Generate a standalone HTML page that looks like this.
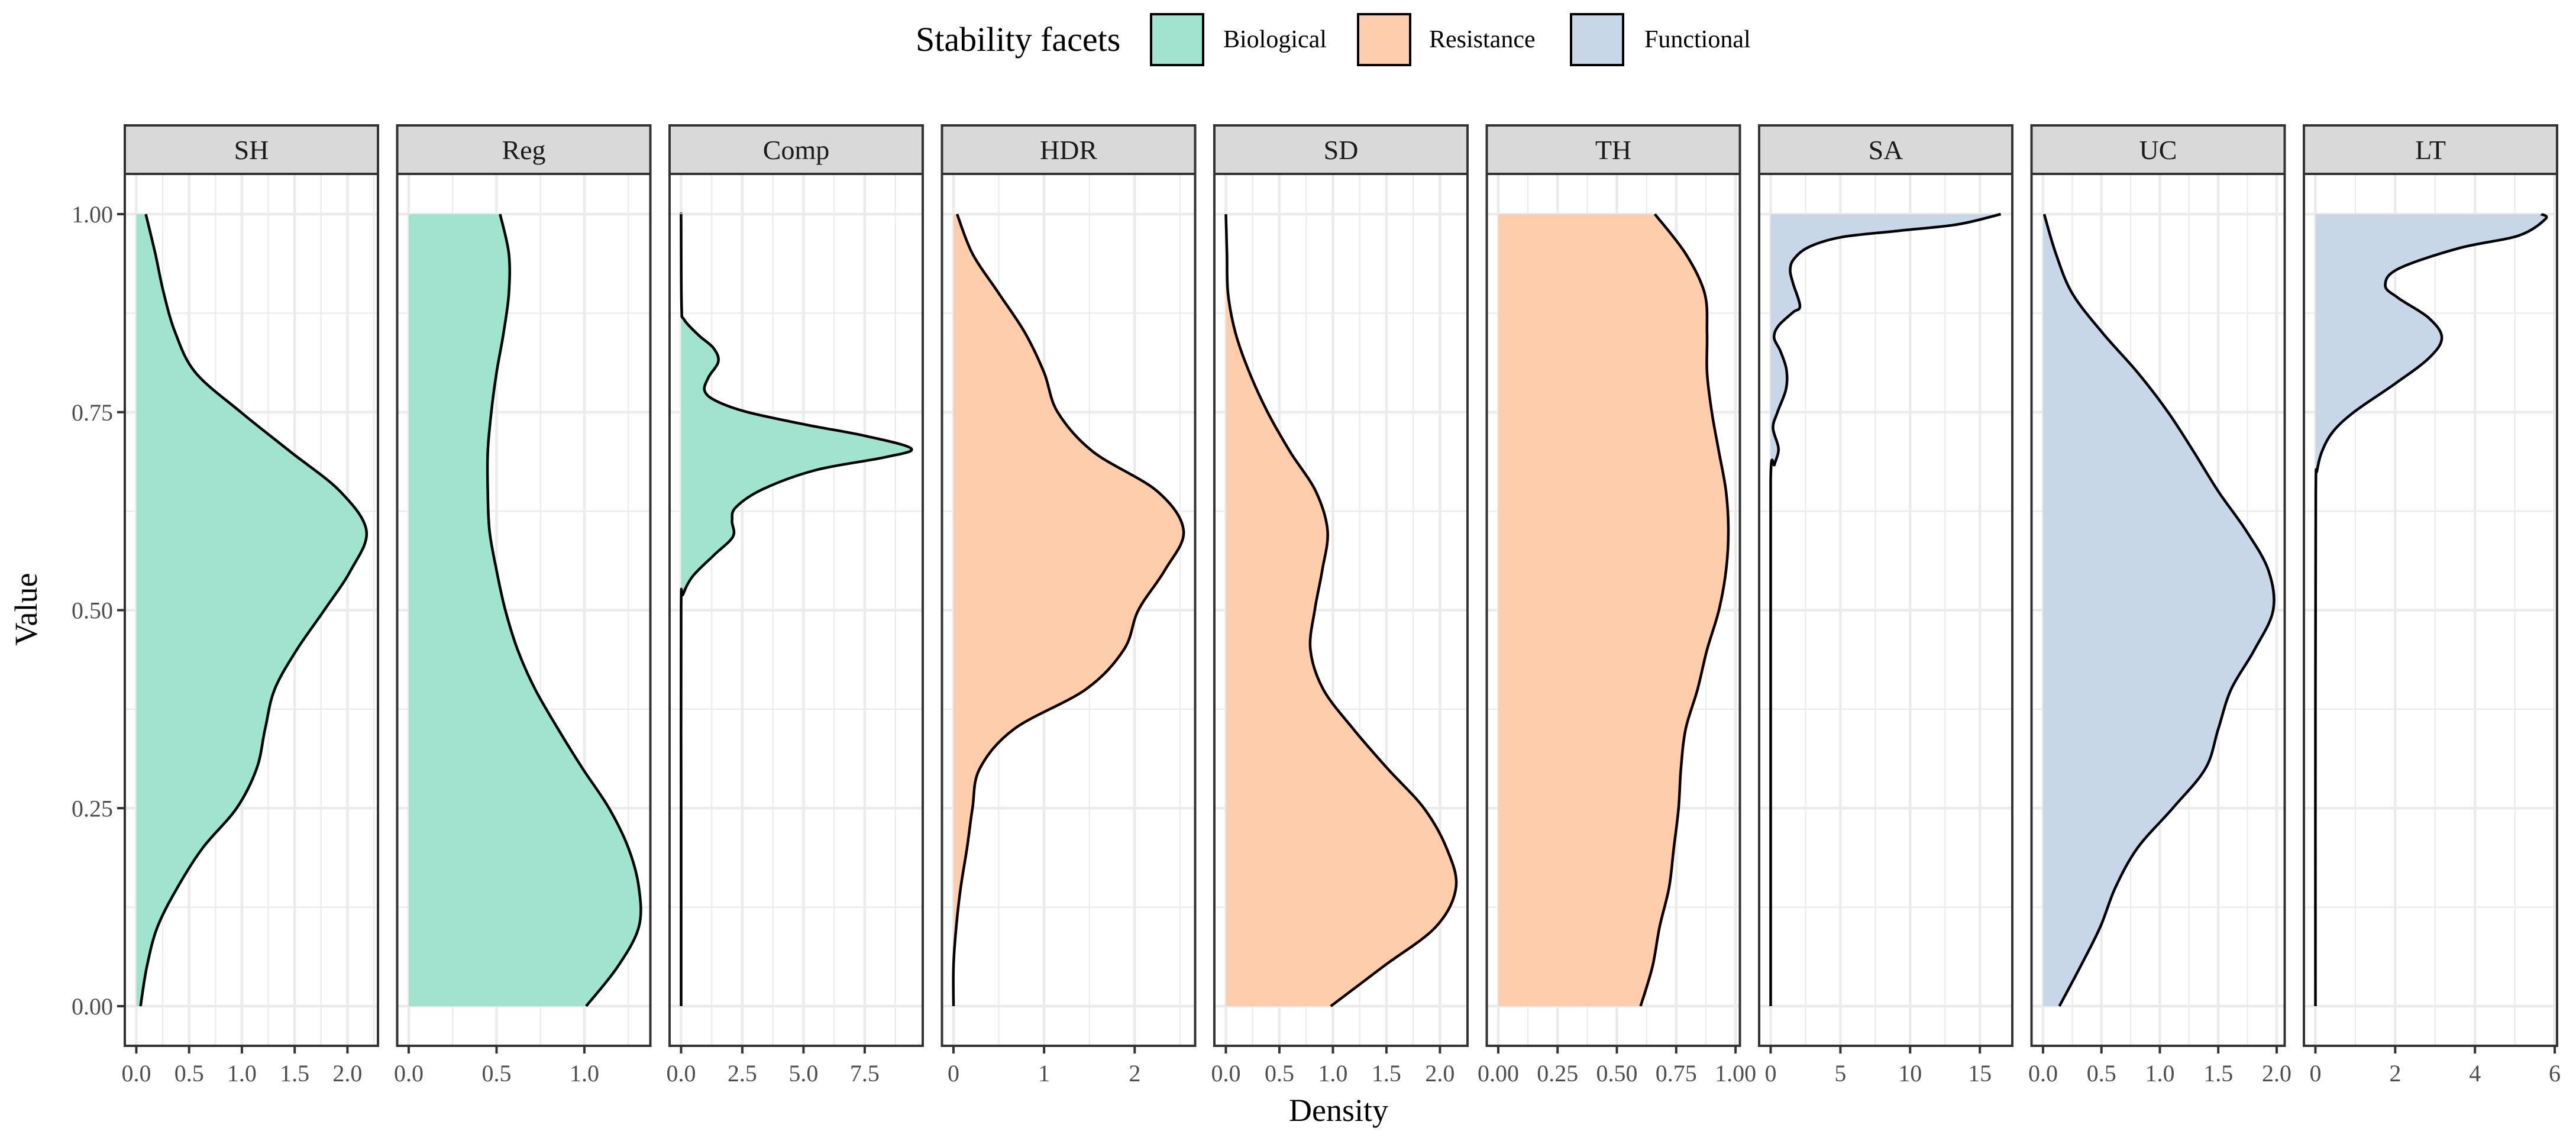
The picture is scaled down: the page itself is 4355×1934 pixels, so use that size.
<!DOCTYPE html>
<html><head><meta charset="utf-8">
<style>
html,body{margin:0;padding:0;background:#fff;}
svg{display:block;}
text{font-family:"Liberation Serif","DejaVu Serif",serif;}
</style></head>
<body>
<svg id="chart" width="4355" height="1934" viewBox="0 0 4355 1934" xmlns="http://www.w3.org/2000/svg">
  <g>
    <text x="1548" y="86" font-size="58" fill="#000">Stability facets</text>
    <rect x="1946" y="24" width="88" height="86" fill="#a0e4cf" stroke="#000" stroke-width="4"/>
    <text x="2068" y="80" font-size="42" fill="#000">Biological</text>
    <rect x="2296" y="24" width="88" height="86" fill="#fdcdac" stroke="#000" stroke-width="4"/>
    <text x="2416" y="80" font-size="42" fill="#000">Resistance</text>
    <rect x="2656" y="24" width="88" height="86" fill="#c8d7e8" stroke="#000" stroke-width="4"/>
    <text x="2780" y="80" font-size="42" fill="#000">Functional</text>
  </g>
  <text x="0" y="0" transform="translate(62,1030) rotate(-90)" text-anchor="middle" font-size="54" fill="#000">Value</text>
  <text x="2263" y="1895" text-anchor="middle" font-size="54" fill="#000">Density</text>
  <g id="panels"></g>
</svg>
<script>
// ---- data (value on y, density on x) ----
const panelNames = ["SH","Reg","Comp","HDR","SD","TH","SA","UC","LT"];
const panelFacets = ["bio","bio","bio","res","res","res","fun","fun","fun"];
const stdY = [1,0.95,0.9,0.85,0.8,0.75,0.7,0.65,0.6,0.55,0.5,0.45,0.4,0.35,0.3,0.25,0.2,0.15,0.1,0.05,0];
const shDens = [0.09,0.18,0.26,0.37,0.56,0.99,1.46,1.93,2.18,2.03,1.78,1.52,1.31,1.22,1.14,0.95,0.63,0.39,0.20,0.10,0.04];
const regDens = [0.52,0.57,0.57,0.54,0.50,0.47,0.45,0.45,0.46,0.50,0.55,0.62,0.72,0.85,0.99,1.14,1.25,1.31,1.31,1.19,1.01];
const compY = [1,0.988,0.884,0.867,0.847,0.831,0.814,0.794,0.777,0.764,0.75,0.734,0.72,0.704,0.693,0.677,0.653,0.63,0.613,0.593,0.57,0.543,0.52,0.503,0.25,0];
const compDens = [0,0,0.02,0.12,0.72,1.32,1.52,1.12,0.96,1.44,2.72,5.12,7.52,9.4,8.32,5.52,3.36,2.24,2.08,2.12,1.36,0.48,0.08,0,0,0];
const hdrDens = [0.04,0.21,0.50,0.79,1.0,1.15,1.54,2.25,2.54,2.33,2.04,1.88,1.46,0.67,0.29,0.21,0.15,0.08,0.03,0.0,0.0];
const sdDens = [0,0.01,0.02,0.09,0.22,0.39,0.60,0.84,0.95,0.90,0.83,0.79,0.91,1.19,1.51,1.85,2.06,2.15,1.96,1.47,0.98];
const thDens = [0.66,0.79,0.87,0.88,0.88,0.90,0.93,0.96,0.97,0.96,0.93,0.88,0.84,0.79,0.77,0.76,0.74,0.72,0.68,0.65,0.60];
const saY = [1,0.987,0.979,0.971,0.959,0.944,0.93,0.913,0.884,0.876,0.859,0.844,0.827,0.804,0.779,0.75,0.73,0.704,0.684,0.664,0.4,0];
const saDens = [16.5,13.4,9.2,5.1,2.8,1.7,1.4,1.6,2.1,1.6,0.56,0.25,0.70,1.13,1.10,0.49,0.17,0.56,0.28,0,0,0];
const ucDens = [0.01,0.11,0.25,0.51,0.81,1.07,1.29,1.50,1.74,1.93,1.97,1.81,1.61,1.50,1.39,1.11,0.81,0.62,0.49,0.32,0.14];
const ltY = [1,0.994,0.973,0.957,0.931,0.91,0.894,0.869,0.844,0.818,0.785,0.751,0.726,0.701,0.676,0.651,0.4,0];
const ltDens = [5.66,5.77,5.1,3.6,2.08,1.75,2.08,2.84,3.17,2.84,1.97,0.99,0.45,0.17,0.04,0.01,0,0];
const panelY = [stdY,stdY,compY,stdY,stdY,stdY,saY,stdY,ltY];
const panelDens = [shDens,regDens,compDens,hdrDens,sdDens,thDens,saDens,ucDens,ltDens];
// tick labels
const shTicks = ["0.0","0.5","1.0","1.5","2.0"];
const regTicks = ["0.0","0.5","1.0"];
const compTicks = ["0.0","2.5","5.0","7.5"];
const hdrTicks = ["0","1","2"];
const sdTicks = ["0.0","0.5","1.0","1.5","2.0"];
const thTicks = ["0.00","0.25","0.50","0.75","1.00"];
const saTicks = ["0","5","10","15"];
const ucTicks = ["0.0","0.5","1.0","1.5","2.0"];
const ltTicks = ["0","2","4","6"];
const panelTicks = [shTicks,regTicks,compTicks,hdrTicks,sdTicks,thTicks,saTicks,ucTicks,ltTicks];
const yTicks = ["0.00","0.25","0.50","0.75","1.00"];

// ---- layout ----
const NS = "http://www.w3.org/2000/svg";
const fillCol = {bio:"#a0e4cf", res:"#fdcdac", fun:"#c8d7e8"};
const PX0 = 211, PITCH = 460.5, PW = 428;
const STRIP_TOP = 212, PTOP = 294, PBOT = 1768;
const Y0 = 1701, Y1 = 362;
function yScale(v){ return Y0 - v*(Y0-Y1); }
function mk(tag, attrs, parent){
  const e = document.createElementNS(NS, tag);
  for (const k in attrs) e.setAttribute(k, attrs[k]);
  parent.appendChild(e);
  return e;
}
function spline(pts){
  let d = "M" + pts[0][0].toFixed(1) + "," + pts[0][1].toFixed(1);
  for (let i=0;i<pts.length-1;i++){
    const p0 = pts[Math.max(0,i-1)], p1 = pts[i], p2 = pts[i+1], p3 = pts[Math.min(pts.length-1,i+2)];
    const c1x = p1[0]+(p2[0]-p0[0])/6, c1y = p1[1]+(p2[1]-p0[1])/6;
    const c2x = p2[0]-(p3[0]-p1[0])/6, c2y = p2[1]-(p3[1]-p1[1])/6;
    d += " C" + c1x.toFixed(1)+","+c1y.toFixed(1)+" "+c2x.toFixed(1)+","+c2y.toFixed(1)+" "+p2[0].toFixed(1)+","+p2[1].toFixed(1);
  }
  return d;
}
const root = document.getElementById("panels");
yTicks.forEach(function(lab){
  const v = parseFloat(lab), y = yScale(v);
  const t = mk("line",{x1:PX0-13,x2:PX0,y1:y,y2:y,stroke:"#333","stroke-width":4},root);
  
  
  const tx = mk("text",{x:PX0-20,y:y+14,"text-anchor":"end","font-size":40,fill:"#4d4d4d"},root);
  tx.textContent = lab;
  
  
});

panelNames.forEach(function(name, i){
  const left = PX0 + i*PITCH, right = left + PW;
  const dens = panelDens[i], ys = panelY[i];
  const M = Math.max.apply(null, dens);
  const lo = -0.05*M, hi = 1.05*M;
  const xScale = function(d){ return left + (d-lo)/(hi-lo)*PW; };
  const g = mk("g",{},root);
  
  
  mk("rect",{x:left,y:PTOP,width:PW,height:PBOT-PTOP,fill:"#fff"},g);
  const ticks = panelTicks[i].map(parseFloat);
  const step = ticks[1]-ticks[0];
  for (let v=ticks[0]-step/2; xScale(v)<right; v+=step/2){
    const x = xScale(v);
    if (x<=left) continue;
    const major = Math.abs(((v-ticks[0])/step) - Math.round((v-ticks[0])/step))<1e-6;
    const gl = mk("line",{x1:x,x2:x,y1:PTOP,y2:PBOT,stroke:"#ebebeb","stroke-width":major?4.5:2.2},g);
    
    
  }
  for (let k=-1;k<=8;k++){
    const v = k*0.125, y = yScale(v);
    if (y<PTOP || y>PBOT) continue;
    const major = k%2===0;
    const gl = mk("line",{x1:left,x2:right,y1:y,y2:y,stroke:"#ebebeb","stroke-width":major?4.5:2.2},g);
    
    
  }
  const pts = ys.map(function(v,j){ return [xScale(dens[j]), yScale(v)]; });
  const curve = spline(pts);
  const area = mk("path",{d: curve + " L"+xScale(0)+","+yScale(ys[ys.length-1])+" L"+xScale(0)+","+yScale(ys[0])+" Z", fill: fillCol[panelFacets[i]], stroke:"none"},g);
  
  
  const line = mk("path",{d: curve, fill:"none", stroke:"#000","stroke-width":4.5,"stroke-linejoin":"round"},g);
  
  
  const bd = mk("rect",{x:left,y:PTOP,width:PW,height:PBOT-PTOP,fill:"none",stroke:"#333","stroke-width":4},g);
  
  
  const st = mk("rect",{x:left,y:STRIP_TOP,width:PW,height:PTOP-STRIP_TOP,fill:"#d9d9d9",stroke:"#333","stroke-width":4},g);
  
  
  const sl = mk("text",{x:left+PW/2,y:(STRIP_TOP+PTOP)/2+16,"text-anchor":"middle","font-size":46,fill:"#1a1a1a"},g);
  sl.textContent = name;
  
  
  panelTicks[i].forEach(function(lab){
    const x = xScale(parseFloat(lab));
    const tm = mk("line",{x1:x,x2:x,y1:PBOT,y2:PBOT+13,stroke:"#333","stroke-width":4},g);
    
    
    const tl = mk("text",{x:x,y:1828,"text-anchor":"middle","font-size":40,fill:"#4d4d4d"},g);
    tl.textContent = lab;
    
    
  });
});
</script>
</body></html>
